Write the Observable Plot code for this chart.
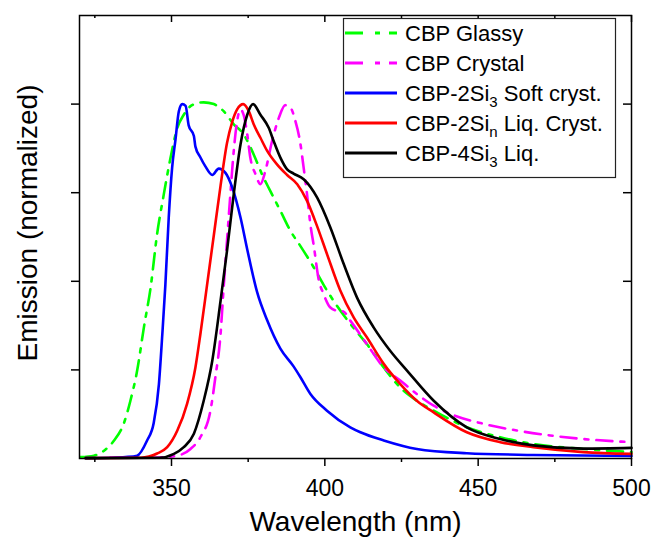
<!DOCTYPE html>
<html><head><meta charset="utf-8">
<script src="https://cdn.jsdelivr.net/npm/d3@7"></script>
<script src="https://cdn.jsdelivr.net/npm/@observablehq/plot@0.6"></script>
<style>body{margin:0;background:#fff}</style>
</head><body><div id="chart"></div>
<script>
// ---- data ----
const glassyNm  = [320.3,324.7,328,331.2,334.5,336.6,338.8,341,343.2,345.3,347.5,349.7,351.9,354,356.7,360.5,363.8,367,370.3,373.5,376.8,379.5,382.2,385.5,388.8,392,396.4,399.6,404,408.3,413.7,419.2,424.6,430,435.5,446.3,457.2,468,484.3,500];
const glassyVal = [0.004,0.008,0.022,0.05,0.1,0.163,0.248,0.37,0.483,0.633,0.746,0.849,0.933,0.97,0.997,1.005,1.0,0.98,0.943,0.915,0.858,0.802,0.755,0.699,0.642,0.6,0.539,0.49,0.43,0.38,0.323,0.257,0.2,0.163,0.135,0.088,0.06,0.041,0.027,0.018];

const crystalNm  = [330,340,346,351.9,356.2,359.4,362.7,364.3,366,367,368.1,369.2,370.3,371.4,372.5,373.5,374.7,375.7,377.4,379,380.6,382.8,385,387.1,388.8,390.4,392,393.1,394.2,395.3,396.4,398,399.6,401.8,404,406,408.3,413.7,419.2,424.6,430,435.5,440.9,451.7,462.6,473.5,484.3,500];
const crystalVal = [0.002,0.002,0.003,0.008,0.027,0.06,0.135,0.229,0.351,0.483,0.614,0.746,0.868,0.952,0.985,0.97,0.915,0.849,0.802,0.774,0.811,0.896,0.961,0.997,0.99,0.952,0.89,0.82,0.745,0.66,0.6,0.505,0.464,0.426,0.417,0.415,0.389,0.323,0.257,0.22,0.182,0.149,0.126,0.098,0.079,0.065,0.055,0.046];

const softNm  = [322,330,335,338.8,342,344.2,345.9,347,348,349.1,350.2,351.3,352.4,353.5,354.6,355.6,357.3,357.8,359.4,361,363.3,365.4,367.6,369.8,372.5,374.7,377.9,381.2,385.5,389.8,392,395.3,400.7,408.3,411.6,419.2,430,446.3,468,500];
const softVal = [0.001,0.002,0.004,0.008,0.05,0.1,0.21,0.35,0.49,0.68,0.82,0.9,0.98,1.0,0.995,0.94,0.91,0.88,0.85,0.825,0.8,0.818,0.806,0.765,0.68,0.59,0.47,0.39,0.31,0.26,0.23,0.182,0.135,0.088,0.074,0.051,0.027,0.015,0.01,0.007];

const liqCrystNm  = [322,340,345.3,348.6,351.9,355.1,357.8,359.4,361.6,363.8,366,368.1,369.8,371.4,373.4,375.2,376.8,379,381.2,384.4,387.7,391,394.2,397.5,400.7,405,409.4,413.7,419.2,424.6,430,435.5,446.3,457.2,468,484.3,500];
const liqCrystVal = [0.001,0.002,0.014,0.032,0.079,0.155,0.257,0.35,0.49,0.63,0.77,0.89,0.95,0.985,1.0,0.98,0.943,0.905,0.868,0.83,0.8,0.774,0.727,0.655,0.577,0.475,0.398,0.342,0.267,0.21,0.163,0.13,0.074,0.046,0.032,0.018,0.013];

const liqNm  = [322,346,350.8,354,357.3,360.5,363.3,366,368.1,370.3,372.5,374.7,376.6,379,381.7,383.3,385.5,387.7,389.8,393.1,397.5,401.8,406.1,410.5,415.9,421.3,426.8,435.5,446.3,457.2,468,484.3,500];
const liqVal = [0.001,0.002,0.013,0.032,0.07,0.163,0.276,0.445,0.586,0.746,0.886,0.97,1.0,0.97,0.933,0.896,0.849,0.816,0.804,0.788,0.736,0.652,0.55,0.454,0.37,0.304,0.248,0.163,0.088,0.055,0.037,0.028,0.03];

const seriesNm  = [glassyNm, crystalNm, softNm, liqCrystNm, liqNm];
const seriesVal = [glassyVal, crystalVal, softVal, liqCrystVal, liqVal];
// legend labels: [main, subscript, rest]
const seriesLabels = [["CBP Glassy","",""],["CBP Crystal","",""],["CBP-2Si","3"," Soft cryst."],["CBP-2Si","n"," Liq. Cryst."],["CBP-4Si","3"," Liq."]];
const seriesColors = ["#00ff00","#ff00ff","#0000ff","#ff0000","#000000"];
const seriesDash   = ["16,8,4,8","16,8,4,8",null,null,null];

const majorTicksX = [350,400,450,500];
const minorTicksX = [325,375,425,475];
const ticksY      = [0.25,0.5,0.75,1.0];
const xTitle = "Wavelength (nm)";
const yTitle = "Emission (normalized)";

// ---- build ----
const W = 652, H = 540, mL = 79, mR = 21, mT = 15, mB = 82;
const frameW = W - mL - mR, frameH = H - mT - mB;
const rows = seriesNm.map((nms, i) => nms.map((nm, j) => ({nm, v: seriesVal[i][j]})));

const lineMarks = rows.map((r, i) => Plot.line(r, {
  x: "nm", y: "v", stroke: seriesColors[i], strokeWidth: 2.6,
  strokeDasharray: seriesDash[i] ?? undefined, curve: "monotone-x"
}));

const plot = Plot.plot({
  width: W, height: H,
  marginLeft: mL, marginRight: mR, marginTop: mT, marginBottom: mB,
  style: {fontFamily: "'Liberation Sans', Arial, sans-serif", fontSize: "22px", background: "white", overflow: "visible", color: "#000"},
  x: {domain: [320, 500]},
  y: {domain: [0, 1.25]},
  marks: [
    ...lineMarks,
    Plot.frame({stroke: "#000", strokeWidth: 1.5}),
    Plot.axisX(majorTicksX, {anchor: "bottom", tickSize: 8, tickPadding: 13, fontSize: 23, label: null, strokeWidth: 1.5}),
    Plot.axisX(minorTicksX, {anchor: "bottom", tickSize: 4, text: null, label: null, strokeWidth: 1.5}),
    // mirrored inward ticks on top and right
    Plot.tickX(majorTicksX, {x: d => d, stroke: "#000", strokeWidth: 1.5, insetBottom: frameH - 7}),
    Plot.tickX(minorTicksX, {x: d => d, stroke: "#000", strokeWidth: 1.5, insetBottom: frameH - 3}),
    Plot.axisY(ticksY, {anchor: "left", tickSize: 8, text: null, label: null, strokeWidth: 1.5}),
    Plot.tickY(ticksY, {y: d => d, stroke: "#000", strokeWidth: 1.5, insetLeft: frameW - 8}),
    Plot.text([xTitle], {text: d => d, frameAnchor: "bottom", textAnchor: "middle", dy: 64, fontSize: 28, lineAnchor: "middle"}),
    Plot.text([yTitle], {text: d => d, frameAnchor: "left", textAnchor: "middle", dx: -51, dy: -14, rotate: -90, fontSize: 28, lineAnchor: "middle"})
  ]
});
document.getElementById("chart").appendChild(plot);

// ---- legend ----
const svg = d3.select(plot);
const lg = svg.append("g").attr("class", "legend").attr("text-anchor", "start");
lg.append("rect").attr("x", 343.5).attr("y", 18.5).attr("width", 272).attr("height", 159)
  .attr("fill", "white").attr("stroke", "#222").attr("stroke-width", 1.2);
seriesLabels.forEach((lab, i) => {
  const cy = 33 + i * 30;
  lg.append("line").attr("x1", 345).attr("x2", 397).attr("y1", cy).attr("y2", cy)
    .attr("stroke", seriesColors[i]).attr("stroke-width", 3)
    .attr("stroke-dasharray", seriesDash[i] ? "18,12,5,9" : null);
  const t = lg.append("text").attr("x", 405).attr("y", cy + 8).attr("font-size", 22)
    .attr("fill", "#000").attr("text-anchor", "start");
  t.append("tspan").text(lab[0]);
  if (lab[1]) {
    t.append("tspan").attr("dy", 6).attr("font-size", 15).text(lab[1]);
    t.append("tspan").attr("dy", -6).text(lab[2]);
  }
});
</script>
</body></html>
